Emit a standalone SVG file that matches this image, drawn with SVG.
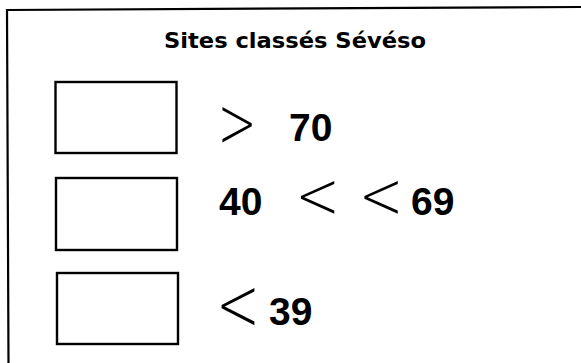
<svg xmlns="http://www.w3.org/2000/svg" width="581" height="363" viewBox="0 0 581 363">
<style>
.frame{fill:none;stroke:#000;stroke-width:2.2}
.box{fill:#fff;stroke:#000;stroke-width:2.4}
.title{font-family:"DejaVu Sans","Liberation Sans",sans-serif;font-weight:bold;font-size:21px;fill:#000}
.num{font-family:"Liberation Sans",Arial,sans-serif;font-weight:bold;font-size:39px;fill:#000}
.sym{font-family:"DejaVu Sans","Liberation Sans",sans-serif;font-weight:200;fill:#000;text-anchor:middle}
</style>
<rect width="581" height="363" fill="#fff"/>
<path class="frame" d="M8.5,363 L7,10 L581,7"/>
<g id="title"><text class="title" x="295" y="48" text-anchor="middle" textLength="262" lengthAdjust="spacingAndGlyphs">Sites classés Sévéso</text></g>
<g id="box1"><rect class="box" x="55.5" y="82" width="121" height="71"/></g>
<g id="box2"><rect class="box" x="56" y="178" width="121" height="72"/></g>
<g id="box3"><rect class="box" x="57" y="273" width="121" height="71"/></g>
<g id="label1">
<text class="sym" font-size="72" transform="translate(237,147.3) scale(0.65,1)">&gt;</text>
<text class="num" x="289" y="141">70</text>
</g>
<g id="label2">
<text class="num" x="219" y="215">40</text>
<text class="sym" font-size="65" transform="translate(317.5,217.5) scale(0.82,1)">&lt;</text>
<text class="sym" font-size="65" transform="translate(381,217.5) scale(0.82,1)">&lt;</text>
<text class="num" x="411" y="215">69</text>
</g>
<g id="label3">
<text class="sym" font-size="75" transform="translate(238,329.7) scale(0.7,1)">&lt;</text>
<text class="num" x="269" y="325">39</text>
</g>
</svg>
